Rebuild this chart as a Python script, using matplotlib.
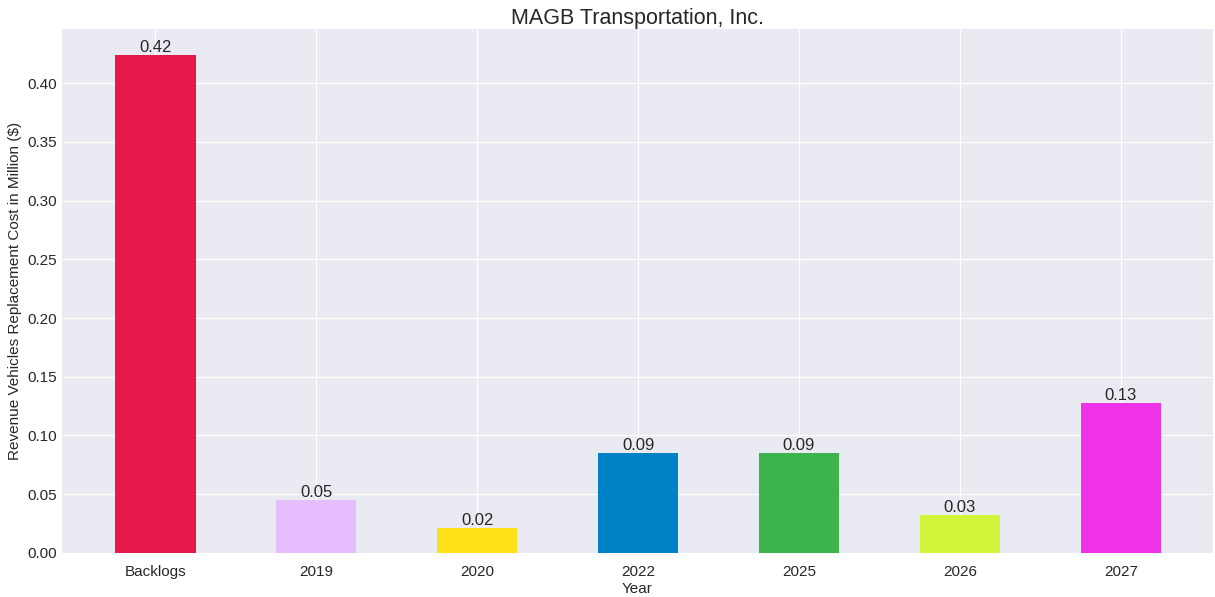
import matplotlib
matplotlib.use("Agg")
import matplotlib.pyplot as plt

# Values
categories = ["Backlogs", "2019", "2020", "2022", "2025", "2026", "2027"]
costs = [0.424, 0.045, 0.021, 0.085, 0.085, 0.032, 0.128]
labels = ["0.42", "0.05", "0.02", "0.09", "0.09", "0.03", "0.13"]
colors = ["#e6194b", "#e6beff", "#ffe119", "#0082c8", "#3cb44b", "#d2f53c", "#f032e6"]

plt.style.use("seaborn-v0_8-darkgrid")
plt.rcParams["font.family"] = ["Liberation Sans", "DejaVu Sans"]

fig, ax = plt.subplots(figsize=(12.15, 5.97), dpi=100)
fig.subplots_adjust(left=0.051, right=0.998, top=0.951, bottom=0.074)

x = range(len(categories))
bars = ax.bar(x, costs, width=0.5, color=colors)
for b, lab in zip(bars, labels):
    ax.text(b.get_x() + b.get_width() / 2, b.get_height(), lab,
            ha="center", va="bottom", fontsize=12, color="#262626")

ax.set_xticks(list(x))
ax.set_xticklabels(categories, fontsize=11)
ax.tick_params(axis="x", pad=9)
ax.tick_params(axis="y", labelsize=11)
ax.set_xlim(-0.58, 6.57)
ax.set_ylim(0, 0.446)
ax.set_yticks([0.0, 0.05, 0.10, 0.15, 0.20, 0.25, 0.30, 0.35, 0.40])
ax.set_yticklabels(["0.00", "0.05", "0.10", "0.15", "0.20", "0.25", "0.30", "0.35", "0.40"])
ax.set_xlabel("Year", fontsize=11, labelpad=2)
ax.set_ylabel("Revenue Vehicles Replacement Cost in Million ($)", fontsize=11)
ax.set_title("MAGB Transportation, Inc.", fontsize=15.5, pad=4)

fig.savefig("out.png", dpi=100)
